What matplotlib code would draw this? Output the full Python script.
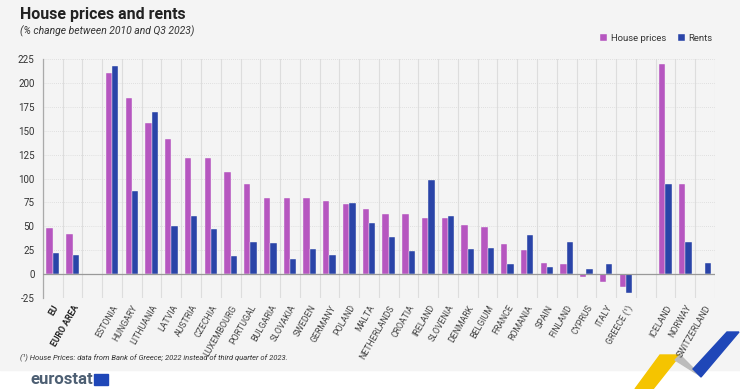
import numpy as np
import matplotlib.pyplot as plt
from matplotlib.patches import Polygon, Rectangle

plt.rcParams['font.family'] = ['Roboto', 'DejaVu Sans']

# Données
pays = ["EU", "EURO AREA", "",
        "ESTONIA", "HUNGARY", "LITHUANIA", "LATVIA", "AUSTRIA", "CZECHIA",
        "LUXEMBOURG", "PORTUGAL", "BULGARIA", "SLOVAKIA", "SWEDEN", "GERMANY",
        "POLAND", "MALTA", "NETHERLANDS", "CROATIA", "IRELAND", "SLOVENIA",
        "DENMARK", "BELGIUM", "FRANCE", "ROMANIA", "SPAIN", "FINLAND",
        "CYPRUS", "ITALY", "GREECE (\u00b9)", "",
        "ICELAND", "NORWAY", "SWITZERLAND"]
prix_logement = [48, 42, np.nan,
                 210, 184, 158, 141, 122, 122, 107, 94, 80, 80, 80, 76,
                 73, 68, 63, 62.5, 59, 59, 51, 49.5, 32, 25, 11.5, 11,
                 -2.8, -8, -14, np.nan,
                 219.5, 94, np.nan]
loyers = [22, 20, np.nan,
          218, 87, 170, 50, 61, 47, 19, 33.5, 33, 16, 26.5, 20.5,
          74, 53, 39, 23.7, 99, 61, 26, 27.5, 11, 40.5, 7.7, 34,
          5, 10.5, -20, np.nan,
          94, 33.5, 12]
graduations = [-25, 0, 25, 50, 75, 100, 125, 150, 175, 200, 225]

couleur_prix = "#b656c0"
couleur_loyer = "#2a44a8"

fig = plt.figure(figsize=(7.4, 3.89), dpi=100)
fig.patch.set_facecolor("white")

# Fond gris, décoration et logo (coordonnées en pixels)
fond = fig.add_axes([0, 0, 1, 1], zorder=-1)
fond.set_xlim(0, 740)
fond.set_ylim(389, 0)
fond.axis("off")
fond.add_patch(Rectangle((0, 0), 740, 370, color="#f4f4f4"))
fond.add_patch(Polygon([(635, 389), (660, 355), (680, 355), (653, 389)], color="#f5c400"))
fond.add_patch(Polygon([(675, 360), (680, 355), (701, 376), (694, 372)], color="#bcbcbc"))
fond.add_patch(Polygon([(693, 369), (727, 332), (739, 332), (701, 377)], color="#1f47b8"))
fond.text(30, 384, "eurostat", fontsize=12, color="#4d5f73", fontweight="bold",
          va="baseline")
fond.add_patch(Rectangle((94, 374), 14, 11, color="#1f47b8"))

fig.text(0.027, 0.962, "House prices and rents", fontsize=11.5, fontweight="bold",
         color="#222222", va="center")
fig.text(0.027, 0.92, "(% change between 2010 and Q3 2023)", fontsize=7.5,
         style="italic", color="#333333", va="center")
fig.text(0.027, 0.082, "(\u00b9) House Prices: data from Bank of Greece; 2022 instead of third quarter of 2023.",
         fontsize=5.5, style="italic", color="#333333", va="center")

ax = fig.add_axes([0.058, 0.234, 0.908, 0.614])
ax.set_facecolor("none")
x = np.arange(len(pays))
ax.bar(x - 0.16, prix_logement, width=0.32, color=couleur_prix, label="House prices",
       edgecolor="#f4f4f4", linewidth=0.3, zorder=3)
ax.bar(x + 0.16, loyers, width=0.32, color=couleur_loyer, label="Rents",
       edgecolor="#f4f4f4", linewidth=0.3, zorder=3)

ax.set_xlim(-0.5, len(pays) - 0.5)
ax.set_ylim(-25, 225)
ax.set_yticks(graduations)
ax.set_yticklabels([str(g) for g in graduations], fontsize=7, color="#333333")
ax.set_xticks(x)
etiquettes = ax.set_xticklabels(pays, rotation=60, ha="right", rotation_mode="anchor",
                                fontsize=6.3, color="#444444")
for t in etiquettes[:2]:
    t.set_fontweight("bold")
    t.set_color("#222222")
ax.tick_params(axis="y", length=0, pad=6)
ax.tick_params(axis="x", length=0, pad=4)

ax.set_xticks(np.arange(-0.5, len(pays), 1), minor=True)
ax.tick_params(axis="x", which="minor", length=0)
ax.grid(axis="x", which="minor", color="#dddddd", linewidth=0.8, zorder=0)
ax.grid(axis="y", which="major", color="#d8d8d8", linewidth=0.6, linestyle=(0, (1, 1.5)), zorder=0)
ax.axhline(0, color="#999999", linewidth=0.9, zorder=4)
for cote in ["top", "right", "bottom"]:
    ax.spines[cote].set_visible(False)
ax.spines["left"].set_color("#aaaaaa")
ax.spines["left"].set_linewidth(0.9)

leg = fig.legend(loc="center right", bbox_to_anchor=(0.972, 0.902), ncol=2, frameon=False,
                 fontsize=6.8, handlelength=0.75, handleheight=0.75, columnspacing=1.2,
                 handletextpad=0.4, borderpad=0.2)
for t in leg.get_texts():
    t.set_color("#333333")

fig.savefig("out.png", dpi=100)
